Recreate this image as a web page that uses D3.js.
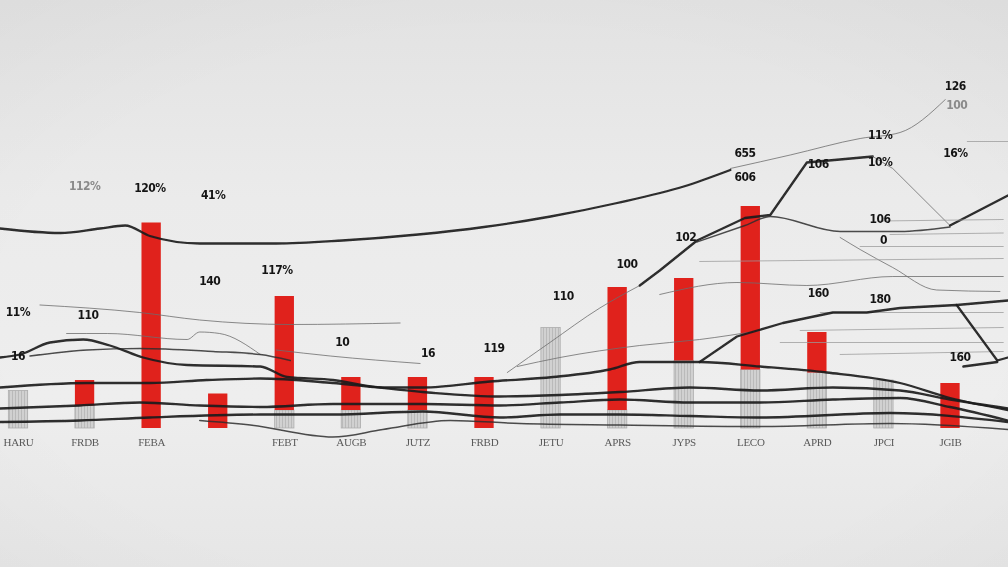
<!DOCTYPE html>
<html>
<head>
<meta charset="utf-8">
<script src="https://cdn.jsdelivr.net/npm/d3@7"></script>
<style>
html,body{margin:0;padding:0;background:#e9e9e9;overflow:hidden;}
svg{display:block;}
</style>
</head>
<body>
<svg id="chart" width="1008" height="567"></svg>
<script>
// ---------------- DATA ----------------
const categories = ["C01","C02","C03","C04","C05","C06","C07","C08","C09","C10","C11","C12","C13","C14","C15"];
const tickLabels = ["HARU","FRDB","FEBA","","FEBT","AUGB","JUTZ","FRBD","JETU","APRS","JYPS","LECO","APRD","JPCI","JGIB"];
const grayValues = [25,15,0,0,12,12,12,0,67,12,45,39,37,32,0];
const redValues  = [0,17,137,23,76,22,22,34,0,82,55,109,27,0,30];

// line series: [category position, value]
const L1  = [[-0.27,133],[0.63,130],[1.23,133],[1.61,135],[1.98,128],[2.73,123],[3.88,123],[4.87,125],[6.01,129],[7,134],[8,141],[9,150],[10,161],[10.7,172]];
const L1b = [[10.7,173],[11.6,182],[12.65,193],[13.25,197],[13.93,219]];
const L2a = [[7.35,37],[7.99,57],[8.74,80],[9.34,95]];
const L2b = [[9.34,95],[9.64,105],[10.2,125],[10.92,140],[11.3,142],[11.85,177],[12.84,181]];
const L2c = [[12.84,181],[13.14,173],[14,135]];
const L2d = [[14,135],[14.87,155]];
const L3  = [[10.2,124],[10.92,135],[11.3,141],[12.35,131],[13.25,131],[14,134]];
const curve1 = [[12.35,127],[12.65,119],[13.14,107],[13.8,92],[14.75,91]];
const thinTop = [[14.26,191],[14.87,191]];
const rA = [[12.95,138],[14.8,139]];
const rB = [[13.1,129],[14.8,130]];
const rC = [[12.65,121],[14.8,121]];
const rD = [[10.24,111],[14.8,113]];
const rE = [[9.64,89],[10.8,97],[11.85,95],[13.14,101],[14.8,101]];
const rF = [[12.05,77],[14.8,77]];
const rG = [[11.75,65],[14.8,67]];
const rH = [[11.45,57],[14.8,57]];
const rI = [[12.35,49],[14.8,51]];
const M2 = [[10.24,44],[10.8,61],[11.49,70],[12.24,77],[12.75,77],[13.25,80],[14.1,82],[14.71,45],[14.87,47]];
const M2tail = [[14.1,82],[14.87,85]];
const M2short = [[14.2,41],[14.71,44]];
const A  = [[-0.27,47],[0.03,49],[0.48,57],[0.98,59],[1.38,55],[1.88,47],[2.54,42],[3.64,41],[4.04,34],[4.73,32],[5.48,27],[6.08,27],[7.09,31],[8.04,34],[8.89,39],[9.34,44],[10.24,44],[11.15,41],[12.15,37],[13.25,30],[14,20],[14.87,12]];
const A2 = [[0.18,48],[1.04,52],[1.83,53],[2.93,51],[3.64,49],[4.09,45]];
const T1 = [[0.73,63],[1.34,63],[2.54,59],[2.73,64],[3.03,63],[3.64,49]];
const B  = [[-0.27,27],[1.04,30],[1.98,30],[2.84,32],[3.64,33],[4.73,30],[6.08,24],[7.24,21],[8.14,22],[9.04,24],[10.09,27],[11.15,25],[12.24,27],[13.25,25],[14,19],[14.87,13]];
const C  = [[-0.27,13],[0.93,15],[1.83,17],[2.73,15],[3.64,14],[4.73,16],[6.08,16],[7.24,15],[8.14,17],[9.04,19],[10.09,17],[11.15,17],[12.24,19],[13.25,20],[14,14],[14.87,5]];
const D  = [[-0.27,4],[0.93,5],[1.98,7],[3.64,9],[4.73,9],[6.08,11],[7.24,7],[8.14,9],[9.04,9],[10.09,8],[11.15,7],[13.1,10],[14.87,4]];
const E  = [[2.73,5],[3.49,2],[4.73,-6],[5.48,-1],[6.49,5],[7.54,3],[9.04,2],[11.15,1],[13.1,3],[14.87,-1]];
const F  = [[0.33,82],[1.83,77],[2.73,72],[4.09,69],[5.74,70]];
const G  = [[3.88,52],[4.69,48],[6.04,43]];
const H  = [[7.5,41],[8.14,47],[9.34,55],[10.24,59],[11.15,65]];

// annotation labels: [category position, value, text, faint]
const annotations = [
  [1.0,161,"112%",1],[1.98,160,"120%",0],[2.93,155,"41%",0],
  [0.0,77,"11%",0],[1.05,75,"110",0],[2.88,98,"140",0],[3.89,105,"117%",0],
  [4.87,57,"10",0],[6.16,50,"16",0],[7.15,53,"119",0],[8.19,88,"110",0],
  [9.15,109,"100",0],[10.03,127,"102",0],[10.92,183,"655",0],[10.92,167,"606",0],
  [12.02,176,"106",0],[12.95,177,"10%",0],[12.95,195,"11%",0],[14.08,228,"126",0],
  [14.1,215,"100",1],[14.08,183,"16%",0],[12.95,139,"106",0],[13.0,125,"0",0],
  [12.02,90,"160",0],[12.95,86,"180",0],[14.15,47,"160",0],[0.0,48,"16",0]
];

// ---------------- STYLES ----------------
const series = [
  {d:L1,s:"thick"},{d:L1b,s:"thin"},{d:L2a,s:"thin"},{d:L2b,s:"thick",sharp:1},{d:L2c,s:"thin",sharp:1},{d:L2d,s:"thick",sharp:1},
  {d:L3,s:"medium"},{d:curve1,s:"thin"},{d:thinTop,s:"faint"},
  {d:rA,s:"faint"},{d:rB,s:"faint"},{d:rC,s:"faint"},{d:rD,s:"faint"},{d:rE,s:"thin"},
  {d:rF,s:"faint"},{d:rG,s:"faint"},{d:rH,s:"faint"},{d:rI,s:"faint"},
  {d:F,s:"thin"},{d:G,s:"thin"},{d:H,s:"thin"},{d:T1,s:"thin"},
  {d:E,s:"medium"},{d:D,s:"thick"},{d:C,s:"thick"},{d:B,s:"thick"},{d:A2,s:"medium"},{d:A,s:"thick"},
  {d:M2,s:"thick",sharp:1},{d:M2tail,s:"thick"},{d:M2short,s:"thick"}
];
const strokeStyles = {
  thick:{c:"#1b1b1b",w:2.3,o:0.92},
  medium:{c:"#2e2e2e",w:1.5,o:0.85},
  thin:{c:"#6e6e6e",w:1.0,o:0.8},
  faint:{c:"#9a9a9a",w:1.0,o:0.75}
};

// ---------------- DRAW ----------------
const W = 1008, Hh = 567;
const svg = d3.select("#chart");
const defs = svg.append("defs");

const bg = defs.append("linearGradient").attr("id","bg").attr("x1",0).attr("y1",0).attr("x2",0).attr("y2",1);
[[0,"#e2e2e2"],[0.35,"#ebebeb"],[0.7,"#eeeeee"],[1,"#e6e6e6"]].forEach(s=>bg.append("stop").attr("offset",s[0]).attr("stop-color",s[1]));
const vig = defs.append("radialGradient").attr("id","vig").attr("cx","50%").attr("cy","55%").attr("r","75%");
vig.append("stop").attr("offset","65%").attr("stop-color","#000").attr("stop-opacity",0);
vig.append("stop").attr("offset","100%").attr("stop-color","#000").attr("stop-opacity",0.025);

const pat = defs.append("pattern").attr("id","stripes").attr("patternUnits","userSpaceOnUse").attr("width",3).attr("height",6);
pat.append("rect").attr("width",3).attr("height",6).attr("fill","#cacaca");
pat.append("rect").attr("width",1).attr("height",6).attr("fill","#adadad");

const blur = defs.append("filter").attr("id","soft").attr("x","-5%").attr("y","-5%").attr("width","110%").attr("height","110%");
blur.append("feGaussianBlur").attr("stdDeviation",0.45);

svg.append("rect").attr("width",W).attr("height",Hh).attr("fill","url(#bg)");
svg.append("rect").attr("width",W).attr("height",Hh).attr("fill","url(#vig)");

const x = d3.scalePoint().domain(categories).range([18,950]);
const xl = d3.scaleLinear().domain([0,categories.length-1]).range([18,950]);
const y = d3.scaleLinear().domain([0,250]).range([428,53]);
const bw = x.step()*0.29;

const root = svg.append("g").attr("filter","url(#soft)");

// gray bars
root.append("g").selectAll("rect").data(categories.map((c,i)=>({c,v:grayValues[i]})).filter(d=>d.v>0))
  .join("rect")
  .attr("x",d=>x(d.c)-bw/2).attr("width",bw)
  .attr("y",d=>y(d.v)).attr("height",d=>y(0)-y(d.v))
  .attr("fill","url(#stripes)").attr("opacity",0.8)
  .attr("stroke","#9d9d9d").attr("stroke-width",0.8);

// red bars
root.append("g").selectAll("rect").data(categories.map((c,i)=>({c,b:grayValues[i],v:redValues[i]})).filter(d=>d.v>0))
  .join("rect")
  .attr("x",d=>x(d.c)-bw/2).attr("width",bw)
  .attr("y",d=>y(d.b+d.v)).attr("height",d=>y(d.b)-y(d.b+d.v))
  .attr("fill","#e0201d");

// lines
const lineGen = d3.line().x(d=>xl(d[0])).y(d=>y(d[1]));
root.append("g").selectAll("path").data(series).join("path")
  .attr("d",s=>lineGen.curve(s.sharp?d3.curveLinear:d3.curveMonotoneX)(s.d))
  .attr("fill","none")
  .attr("stroke",s=>strokeStyles[s.s].c)
  .attr("stroke-width",s=>strokeStyles[s.s].w)
  .attr("stroke-opacity",s=>strokeStyles[s.s].o)
  .attr("stroke-linecap","round").attr("stroke-linejoin","round");

// annotations
svg.append("g").selectAll("text").data(annotations).join("text")
  .attr("x",d=>xl(d[0])).attr("y",d=>y(d[1]))
  .attr("text-anchor","middle").attr("dominant-baseline","middle")
  .attr("font-family","'Liberation Sans Narrow','DejaVu Sans Condensed','Roboto',sans-serif")
  .attr("font-weight","bold").attr("font-size",12).attr("letter-spacing","-0.5")
  .attr("fill",d=>d[3]?"#8a8a8a":"#141414")
  .text(d=>d[2]);

// x axis
const axis = d3.axisBottom(x).tickSize(0).tickPadding(2).tickFormat((c,i)=>tickLabels[i]);
const ax = svg.append("g").attr("transform","translate(0,436)").call(axis);
ax.select(".domain").remove();
ax.selectAll("text").attr("font-family","'Liberation Serif','DejaVu Serif',serif")
  .attr("font-size",11).attr("fill","#5a5a5a").attr("letter-spacing","-0.3");
</script>
</body>
</html>
